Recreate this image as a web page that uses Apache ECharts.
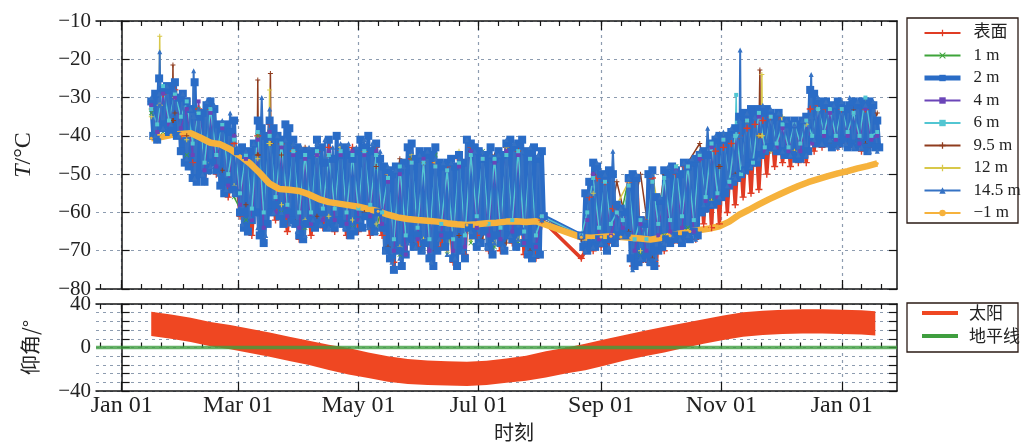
<!DOCTYPE html>
<html><head><meta charset="utf-8">
<script src="https://cdn.jsdelivr.net/npm/echarts@6/dist/echarts.min.js"></script>
<style>html,body{margin:0;padding:0;background:#fff}#c{width:1021px;height:446px}</style>
</head><body><div id="c"></div>
<script>
// ---------------- data ----------------
const baseYear = 2015;            // day 0 = Jan 01
const dayMin = -13, dayMax = 393; // x extent (Dec 19 .. Jan 29)
const monthAbbr = ['Jan','Feb','Mar','Apr','May','Jun','Jul','Aug','Sep','Oct','Nov','Dec'];
const labelMonths = [0, 2, 4, 6, 8, 10];
const minorDays = [1, 11, 21];
const seriesNames = ['表面','1 m','2 m','4 m','6 m','9.5 m','12 m','14.5 m','−1 m'];
const segStartA = 15, segStartB = 233;   // data before / after the August gap

// 2 m, daily
const t2m_a = [
 -31,-40,-29,-41,-25,-38,-28,-37,-27,-39,
 -28,-38,-26,-40,-30,-44,-29,-47,-31,-48,
 -33,-51,-26,-52,-35,-50,-34,-52,-32,-49,
 -31,-47,-33,-49,-37,-53,-38,-55,-37,-52,
 -39,-54,-36,-55,-44,-60,-43,-64,-45,-65,
 -44,-62,-42,-60,-36,-66,-38,-68,-40,-63,
 -36,-60,-38,-58,-40,-61,-41,-63,-37,-60,
 -38,-62,-41,-63,-43,-66,-45,-67,-44,-63,
 -45,-62,-44,-64,-41,-63,-43,-60,-47,-64,
 -41,-63,-46,-64,-40,-62,-45,-63,-43,-64,
 -45,-66,-46,-65,-44,-62,-41,-64,-43,-61,
 -40,-63,-44,-65,-42,-60,-46,-64,-48,-70,
 -49,-72,-50,-75,-48,-70,-49,-74,-47,-71,
 -43,-67,-42,-69,-46,-66,-44,-70,-45,-68,
 -44,-72,-45,-74,-43,-70,-47,-66,-48,-69,
 -47,-66,-46,-72,-48,-74,-45,-70,-47,-72,
 -41,-64,-42,-66,-43,-69,-44,-68,-46,-65,
 -45,-69,-43,-71,-46,-66,-44,-68,-45,-70,
 -42,-66,-41,-67,-43,-69,-42,-65,-41,-68,
 -44,-71,-45,-72,-43,-69,-46,-71,-44,-61];
const t2m_b = [
 -66,-69,-55,-70,-52,-68,-47,-69,-48,-67,
 -50,-68,-51,-70,-49,-67,-50,-68,-58,-66,
 -59,-65,-60,-66,-51,-72,-50,-74,-51,-73,
 -62,-72,-63,-71,-50,-73,-49,-74,-56,-70,
 -57,-69,-49,-67,-50,-68,-48,-66,-49,-67,
 -50,-68,-47,-66,-48,-67,-47,-65,-46,-66,
 -45,-60,-44,-59,-45,-58,-42,-58,-41,-57,
 -40,-56,-41,-55,-40,-53,-39,-52,-38,-51,
 -35,-50,-34,-49,-35,-48,-33,-47,-34,-47,
 -33,-45,-34,-44,-33,-43,-34,-43,-35,-44,
 -34,-44,-37,-45,-36,-45,-37,-45,-36,-46,
 -37,-46,-36,-45,-35,-44,-28,-41,-29,-42,
 -31,-41,-32,-42,-31,-41,-33,-43,-32,-42,
 -31,-42,-32,-41,-33,-43,-32,-42,-31,-43,
 -32,-42,-31,-43,-32,-44,-31,-42,-32,-43,
 -36,-43];
// 14.5 m, every 2 days
const t145_a = [
 -30,-40,-29,-38,-27,-37,-28,-40,-29,-46,
 -33,-51,-33,-50,-31,-48,-32,-50,-36,-54,
 -34,-55,-43,-63,-44,-61,-42,-64,-30,-66,
 -33,-60,-40,-60,-41,-63,-42,-65,-43,-66,
 -43,-62,-42,-63,-41,-64,-43,-63,-42,-64,
 -42,-64,-43,-62,-41,-64,-42,-65,-44,-70,
 -48,-73,-49,-72,-48,-68,-44,-69,-45,-70,
 -44,-73,-46,-67,-47,-71,-47,-72,-46,-70,
 -41,-65,-44,-68,-44,-69,-45,-68,-45,-69,
 -41,-66,-42,-67,-44,-70,-43,-71,-45,-62];
const t145_b = [
 -66,-70,-55,-69,-47,-68,-50,-69,-44,-68,
 -59,-66,-51,-75,-50,-72,-62,-73,-50,-72,
 -56,-68,-48,-66,-49,-67,-47,-66,-46,-67,
 -44,-58,-38,-58,-40,-56,-39,-53,-38,-51,
 -36,-49,-34,-48,-35,-46,-32,-44,-33,-43,
 -34,-44,-36,-45,-37,-45,-36,-45,-35,-41,
 -30,-42,-31,-41,-32,-43,-31,-42,-30,-43,
 -31,-43,-32,-44,-31,-44];
const t145_spikes = [[19.3,-18,-32],[36.5,-23,-35],[313.5,-17.6,-40],[349.5,-24,-35]];  // [day, peak, foot]
// 4 m, every 3 days
const t4m_a = [
 -32,-39,-29,-37,-30,-38,-33,-45,-31,-49,
 -34,-48,-38,-53,-40,-58,-46,-62,-41,-64,
 -39,-60,-43,-61,-45,-64,-46,-63,-45,-62,
 -44,-62,-45,-63,-44,-62,-45,-61,-44,-63,
 -52,-70,-50,-71,-47,-67,-46,-70,-48,-66,
 -49,-70,-48,-69,-44,-64,-46,-66,-47,-67,
 -44,-65,-45,-68,-46,-69,-61];
const t4m_b = [
 -66,-62,-50,-67,-52,-66,-60,-64,-53,-70,
 -63,-70,-52,-66,-51,-65,-49,-64,-48,-65,
 -46,-57,-43,-56,-41,-53,-40,-50,-36,-47,
 -35,-44,-35,-43,-38,-44,-37,-44,-36,-42,
 -33,-40,-34,-41,-33,-40,-34,-42,-33,-41,
 -40];
// 6 m, every 3 days
const t6m_a = [
 -33,-37,-27,-36,-29,-35,-31,-42,-34,-47,
 -33,-45,-37,-50,-41,-55,-45,-59,-39,-60,
 -40,-56,-42,-58,-44,-60,-45,-60,-44,-59,
 -45,-59,-44,-60,-45,-59,-44,-58,-45,-60,
 -51,-67,-48,-66,-47,-64,-47,-67,-48,-63,
 -49,-67,-47,-66,-45,-61,-46,-63,-46,-64,
 -45,-62,-44,-65,-46,-66,-61];
const t6m_b = [
 -66,-60,-51,-64,-52,-63,-60,-62,-53,-67,
 -62,-67,-52,-63,-51,-62,-48,-61,-48,-62,
 -45,-56,-42,-55,-41,-52,-40,-50,-36,-47,
 -34,-43,-35,-42,-37,-43,-37,-42,-36,-40,
 -33,-39,-33,-40,-33,-39,-34,-40,-30,-40,
 -39];
const t6m_spikes = [[311.5,-29.3,-40]];
// surface: every 3 days before the gap, every 2 days after it
const tSurf_a = [
 -31,-41,-29,-39,-28,-40,-31,-47,-33,-52,
 -33,-50,-38,-56,-42,-61,-45,-66,-40,-68,
 -37,-62,-42,-65,-44,-67,-45,-66,-44,-64,
 -43,-65,-44,-66,-43,-65,-44,-66,-43,-66,
 -50,-73,-49,-71,-46,-69,-45,-72,-47,-69,
 -48,-73,-46,-71,-43,-66,-45,-70,-46,-70,
 -43,-68,-44,-71,-45,-72,-62];
const tSurf_b = [
 -72,-70,-56,-70,-51,-69,-52,-68,-59,-67,
 -59,-66,-52,-74,-51,-73,-62,-73,-51,-74,
 -57,-70,-50,-68,-50,-68,-48,-67,-47,-67,
 -46,-63,-45,-64,-44,-63,-43,-60,-42,-58,
 -40,-56,-38,-55,-37,-54,-36,-50,-35,-48,
 -35,-47,-36,-48,-37,-47,-36,-47,-33,-44,
 -32,-43,-33,-42,-32,-43,-33,-42,-32,-43,
 -32,-44,-33,-43,-32,-43];
// 1 m, 9.5 m, 12 m, every 6 days
const t1m_a = [
 -34,-39,-29,-45,-33,-49,-37,-56,-62,-40,
 -39,-60,-42,-64,-44,-63,-45,-64,-43,-65,
 -49,-71,-46,-69,-45,-71,-47,-68,-44,-69,
 -42,-68,-44,-62];
const t1m_b = [
 -66,-69,-50,-66,-51,-71,-52,-66,-48,-64,
 -45,-57,-41,-52,-36,-47,-34,-44,-36,-44,
 -31,-42,-32,-42,-32,-43];
const t95m_a = [
 -33,-38,-34,-40,-35,-33,-49,-40,-58,-45,
 -42,-45,-62,-43,-61,-45,-63,-44,-60,-48,
 -69,-46,-68,-47,-70,-47,-66,-44,-67,-45,
 -68,-44,-70,-61];
const t95m_b = [
 -67,-50,-68,-52,-65,-50,-72,-50,-66,-47,
 -42,-57,-40,-50,-36,-40,-44,-37,-44,-36,
 -42,-32,-41,-33,-42,-34];
const t95m_spikes = [[26,-21.5,-36],[69,-25.4,-45],[75.4,-23.7,-42],[323.5,-22.8,-40],[303,-39.5,-48]];
const t12m_a = [
 -35,-38,-30,-41,-34,-47,-38,-53,-44,-46,
 -42,-58,-44,-62,-45,-61,-43,-62,-44,-63,
 -50,-69,-45,-67,-47,-70,-44,-67,-45,-68,
 -43,-67,-45,-61];
const t12m_b = [
 -66,-55,-67,-58,-52,-70,-50,-68,-48,-66,
 -44,-57,-40,-51,-35,-40,-44,-35,-44,-37,
 -33,-41,-32,-42,-31,-43];
const t12m_spikes = [[19.3,-14,-32],[75,-28,-42],[324.5,-24,-40]];
// -1 m (snow), every 5 days
const tNeg1_a = [
 -40.6,-40.3,-39.8,-39.5,-39.3,-40.5,-41.8,-42.2,-43.5,-45.2,
 -47.2,-49.7,-52.5,-53.9,-54.1,-54.4,-55.3,-56.5,-57.3,-57.7,
 -58.1,-58.5,-59.1,-59.7,-60.6,-61.3,-61.7,-62.0,-62.2,-62.4,
 -62.8,-63.1,-63.3,-63.1,-62.8,-62.7,-62.4,-62.3,-62.5,-62.3];
const tNeg1_b = [
 -66.5,-66.6,-66.4,-66.2,-66.4,-66.6,-66.8,-67.1,-66.7,-66.1,
 -65.5,-65.0,-64.6,-64.2,-63.6,-62.4,-60.6,-59.3,-57.9,-56.6,
 -55.4,-54.2,-53.1,-52.1,-51.3,-50.5,-49.8,-49.2,-48.5,-47.9,
 -47.2];
// sun elevation envelope (daily max / min), degrees
const sunDays = [15,25,35,45,55,65,75,85,95,105,115,125,135,145,155,165,175,185,195,205,215,225,235,245,255,265,275,285,295,305,315,325,335,345,355,365,375,382];
const sunHigh = [32.8,30.3,27.3,23.5,20.8,17.3,13.8,9.8,6.3,2.5,-0.5,-4.5,-8,-10.5,-12,-12.7,-13,-12.2,-10.2,-7.5,-3.5,-0.2,3.5,7.5,11.5,15.3,19,22.5,26,29.5,32.3,33.8,34.8,35.1,35.1,34.8,34.3,33.3];
const sunLow  = [10.5,8,5,1.2,-1.5,-5,-8.5,-12.5,-16,-20.8,-24.8,-28,-31.5,-33.5,-34.5,-35,-35.3,-34.5,-32.5,-30.5,-27.5,-24,-21,-16.5,-12,-8,-4.5,-0.5,3.5,7,10,11.5,12.5,12.8,12.8,12.5,12,11];
const horizonValue = 0;

// ---------------- helpers ----------------
function pairs(a, b, stepA, stepB) {
  return a.map((v, i) => [segStartA + i * stepA, v]).concat(b.map((v, i) => [segStartB + i * (stepB || stepA), v]));
}
function withSpikes(pts, spikes) {
  const out = pts.slice();
  (spikes || []).forEach(([d, peak, foot]) => { out.push([d - 0.3, foot], [d, peak], [d + 0.3, foot]); });
  return out.sort((p, q) => p[0] - q[0]);
}
const catDays = [], isMajor = [], isMinor = [], catLabel = [];
for (let d = dayMin; d <= dayMax; d++) {
  const dt = new Date(baseYear, 0, 1 + d);
  const m = dt.getMonth(), dd = dt.getDate();
  catDays.push(dt.getFullYear() + '-' + (m + 1) + '-' + dd);
  isMinor.push(minorDays.indexOf(dd) >= 0);
  isMajor.push(dd === 1 && labelMonths.indexOf(m) >= 0);
  catLabel.push(monthAbbr[m] + ' ' + String(dd).padStart(2, '0'));
}
const SERIF = "'Liberation Serif', 'Noto Sans CJK SC', serif";
const CJK = "'Noto Sans CJK SC', sans-serif";
const INK = '#151515';
const GRIDC = '#8d9cb0';
const dotted = { type: [3, 4], color: GRIDC, width: 1.2 };
const minus = v => String(v).replace('-', '\u2212');
const plusPath = 'path://M4,0h2v4h4v2h-4v4h-2v-4h-4v-2h4z';
const xPath = 'path://M1,0L5,4L9,0L10,1L6,5L10,9L9,10L5,6L1,10L0,9L4,5L0,1z';

function catAxis(grid, pos, major, labels) {
  return {
    type: 'category', gridIndex: grid, position: pos, data: catDays, boundaryGap: false,
    min: 0, max: catDays.length - 1,
    axisLine: { show: major, lineStyle: { color: INK, width: 1.5 } },
    axisTick: { show: true, inside: true, length: major ? 9 : 5,
      interval: (i) => major ? isMajor[i] : isMinor[i], lineStyle: { color: INK, width: 1.2 } },
    axisLabel: labels ? { show: true, interval: (i) => isMajor[i], formatter: (v, i) => catLabel[i],
      fontFamily: SERIF, fontSize: 24, color: '#222', margin: 3 } : { show: false },
    splitLine: (major && pos === 'bottom') ? { show: true, interval: (i) => isMajor[i], lineStyle: dotted } : { show: false }
  };
}
function dataAxis(grid) {
  return { type: 'value', gridIndex: grid, min: dayMin, max: dayMax, show: false, splitLine: { show: false } };
}

const colors = {
  surf: '#e03c24', m1: '#3ea43a', m2: '#2a6cc6', m4: '#6b45b8', m6: '#52c6d2',
  m95: '#8f3c1e', m12: '#d8c84a', m145: '#3572c4', neg1: '#f6b23c', sun: '#ef4722', hor: '#3f9e3f'
};
function tSeries(name, data, color, lw, sym, size) {
  return { type: 'line', name, data, xAxisIndex: 0, yAxisIndex: 0, color,
    lineStyle: { color, width: lw }, itemStyle: { color },
    symbol: sym, symbolSize: size, showSymbol: true, showAllSymbol: true, animation: false, silent: true };
}

const option = {
  animation: false,
  grid: [
    { left: 96, top: 21, right: 124, height: 268 },
    { left: 96, top: 304, right: 124, height: 87 }
  ],
  xAxis: [
    dataAxis(0), catAxis(0, 'bottom', false, false), catAxis(0, 'bottom', true, false),
    catAxis(0, 'top', false, false), catAxis(0, 'top', true, false),
    dataAxis(1), catAxis(1, 'bottom', false, false), catAxis(1, 'bottom', true, true),
    catAxis(1, 'top', false, false), catAxis(1, 'top', true, false)
  ],
  yAxis: [
    { type: 'value', gridIndex: 0, position: 'left', min: -80, max: -10, interval: 10,
      axisLine: { show: true, lineStyle: { color: INK, width: 1.5 } },
      axisTick: { show: true, inside: true, length: 8, lineStyle: { color: INK, width: 1.2 } },
      axisLabel: { fontFamily: SERIF, fontSize: 21, color: '#222', margin: 5, formatter: minus },
      splitLine: { show: true, lineStyle: dotted },
      name: '{i|T}/°C', nameLocation: 'middle', nameGap: 60,
      nameTextStyle: { fontFamily: SERIF, fontSize: 24, color: '#222',
        rich: { i: { fontFamily: SERIF, fontStyle: 'italic', fontSize: 24, color: '#222' } } } },
    { type: 'value', gridIndex: 0, position: 'right', min: -80, max: -10, interval: 10,
      axisLine: { show: true, lineStyle: { color: INK, width: 1.5 } },
      axisTick: { show: true, inside: true, length: 8, lineStyle: { color: INK, width: 1.2 } },
      axisLabel: { show: false }, splitLine: { show: false } },
    { type: 'value', gridIndex: 1, position: 'left', min: -40, max: 40, interval: 8,
      axisLine: { show: true, lineStyle: { color: INK, width: 1.5 } },
      axisTick: { show: true, inside: true, length: 8, lineStyle: { color: INK, width: 1.2 } },
      axisLabel: { fontFamily: SERIF, fontSize: 21, color: '#222', margin: 5,
        formatter: v => (v % 40 === 0 ? minus(v) : '') },
      splitLine: { show: true, lineStyle: dotted },
      name: '仰角/°', nameLocation: 'middle', nameGap: 56,
      nameTextStyle: { fontFamily: CJK, fontSize: 20, color: '#222' } },
    { type: 'value', gridIndex: 1, position: 'right', min: -40, max: 40, interval: 8,
      axisLine: { show: true, lineStyle: { color: INK, width: 1.5 } },
      axisTick: { show: true, inside: true, length: 8, lineStyle: { color: INK, width: 1.2 } },
      axisLabel: { show: false }, splitLine: { show: false } }
  ],
  legend: [
    { orient: 'vertical', left: 922, top: 24, padding: 0, itemGap: 4.5, itemWidth: 36, itemHeight: 8,
      textStyle: { fontFamily: SERIF, fontSize: 17, lineHeight: 18, color: '#222', padding: [0, 0, 0, 8] },
      data: seriesNames.map((n, i) => i === 2 ? { name: n, lineStyle: { width: 5 } } : { name: n }) },
    { orient: 'vertical', left: 922, top: 304, padding: 0, itemGap: 5, itemWidth: 36, itemHeight: 4,
      textStyle: { fontFamily: CJK, fontSize: 17, lineHeight: 18, color: '#222', padding: [0, 0, 0, 6] },
      data: [{ name: '太阳', icon: 'rect', itemStyle: { color: colors.sun } },
             { name: '地平线', icon: 'rect', itemStyle: { color: colors.hor } }] }
  ],
  graphic: [
    { type: 'rect', shape: { x: 907, y: 18, width: 111, height: 205 }, style: { fill: 'none', stroke: '#2a1a14', lineWidth: 1.3 }, silent: true },
    { type: 'rect', shape: { x: 907, y: 303, width: 111, height: 49 }, style: { fill: 'none', stroke: '#2a1a14', lineWidth: 1.3 }, silent: true },
    { type: 'text', left: 494, top: 422, style: { text: '时刻', font: "20px 'Noto Sans CJK SC'", fill: '#222' }, silent: true }
  ],
  series: [
    tSeries(seriesNames[0], pairs(tSurf_a, tSurf_b, 3, 2), colors.surf, 3.5, plusPath, 7),
    tSeries(seriesNames[1], pairs(t1m_a, t1m_b, 6), colors.m1, 1.5, xPath, 5),
    tSeries(seriesNames[5], withSpikes(pairs(t95m_a, t95m_b, 6), t95m_spikes), colors.m95, 1.5, plusPath, 5),
    tSeries(seriesNames[6], withSpikes(pairs(t12m_a, t12m_b, 6), t12m_spikes), colors.m12, 1.5, plusPath, 5),
    tSeries(seriesNames[2], pairs(t2m_a, t2m_b, 1), colors.m2, 4, 'rect', 8),
    tSeries(seriesNames[3], pairs(t4m_a, t4m_b, 3), colors.m4, 1.5, 'rect', 4),
    tSeries(seriesNames[4], withSpikes(pairs(t6m_a, t6m_b, 3), t6m_spikes), colors.m6, 1.5, 'rect', 4),
    tSeries(seriesNames[7], withSpikes(pairs(t145_a, t145_b, 2), t145_spikes), colors.m145, 2, 'triangle', 5),
    tSeries(seriesNames[8], pairs(tNeg1_a, tNeg1_b, 5), colors.neg1, 6.5, 'circle', 3),
    { type: 'custom', name: '太阳', xAxisIndex: 5, yAxisIndex: 2, color: colors.sun,
      itemStyle: { color: colors.sun }, silent: true,
      data: sunDays.map((d, i) => [d, sunHigh[i], sunLow[i]]),
      encode: { x: 0, y: [1, 2] },
      renderItem: function (params, api) {
        if (params.dataIndex !== 0) return null;
        const top = sunDays.map((d, i) => api.coord([d, sunHigh[i]]));
        const bot = sunDays.map((d, i) => api.coord([d, sunLow[i]])).reverse();
        return { type: 'polygon', shape: { points: top.concat(bot) }, style: { fill: colors.sun } };
      } },
    { type: 'line', name: '地平线', xAxisIndex: 5, yAxisIndex: 2, color: colors.hor,
      data: [[dayMin, horizonValue], [dayMax, horizonValue]], symbol: 'none', silent: true,
      lineStyle: { color: colors.hor, width: 3.5, opacity: 0.8 }, z: 3 }
  ]
};
const chart = echarts.init(document.getElementById('c'), null, { renderer: 'canvas' });
chart.setOption(option);
</script></body></html>
